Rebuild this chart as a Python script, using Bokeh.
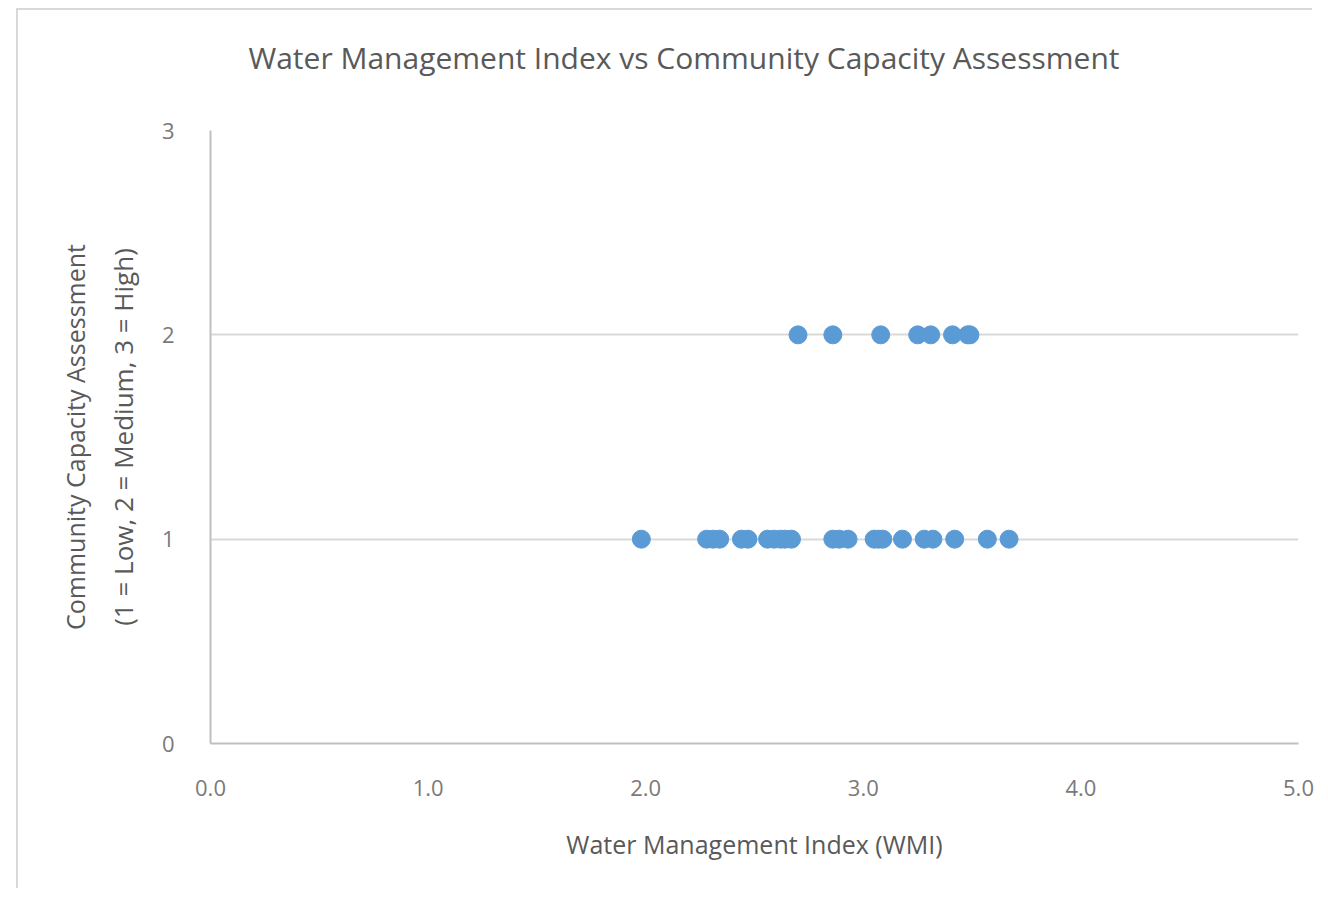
from bokeh.plotting import figure
from bokeh.models import Range1d, FixedTicker, NumeralTickFormatter, Title
from bokeh.embed import file_html
from bokeh.resources import INLINE

# ---- data ----
wmi_low = [1.98, 2.28, 2.31, 2.34, 2.44, 2.47, 2.56, 2.59, 2.62, 2.64, 2.67,
           2.86, 2.89, 2.93, 3.05, 3.07, 3.09, 3.18, 3.28, 3.32, 3.42, 3.57, 3.67]
cap_low = [1] * len(wmi_low)
wmi_medium = [2.70, 2.86, 3.08, 3.25, 3.31, 3.41, 3.48, 3.49]
cap_medium = [2] * len(wmi_medium)

x_ticks = [0, 1, 2, 3, 4, 5]
y_ticks = [0, 1, 2, 3]

title_text = "Water Management Index vs Community Capacity Assessment"
x_label = "Water Management Index (WMI)"
y_label_1 = "Community Capacity Assessment"
y_label_2 = "(1 = Low, 2 = Medium, 3 = High)"

FONT = "Open Sans"
BLUE = "#5B9BD5"
TEXT = "#595959"

p = figure(width=1296, height=880, output_backend="svg", toolbar_location=None,
           x_range=Range1d(0, 5), y_range=Range1d(0, 3),
           min_border_left=192, min_border_right=16, min_border_top=120, min_border_bottom=147)
p.styles = {"margin-left": "18px", "margin-top": "10px",
            "box-shadow": "-2px -2px 0 0 #d9d9d9"}

p.outline_line_color = None
p.background_fill_color = "white"
p.border_fill_color = "white"

p.title.text = title_text
p.title.align = "left"
p.title.offset = 38
p.title.standoff = 10
p.title.padding = dict(left=0, right=0, top=0, bottom=48)
p.title.text_font = FONT
p.title.text_font_size = "30px"
p.title.text_font_style = "normal"
p.title.text_color = TEXT

p.scatter(wmi_low + wmi_medium, cap_low + cap_medium, size=18,
          fill_color=BLUE, line_color=BLUE)

# axes
p.xaxis.ticker = FixedTicker(ticks=x_ticks)
p.xaxis.formatter = NumeralTickFormatter(format="0.0")
p.yaxis.ticker = FixedTicker(ticks=y_ticks)
for ax in (p.xaxis, p.yaxis):
    ax.axis_line_color = "#bfbfbf"
    ax.axis_line_width = 2
    ax.major_tick_line_color = None
    ax.minor_tick_line_color = None
    ax.major_label_text_font = FONT
    ax.major_label_text_font_size = "22px"
    ax.major_label_text_color = "#7a7a7a"
    ax.major_label_standoff = 30
    ax.axis_label_text_font = FONT
    ax.axis_label_text_font_size = "25px"
    ax.axis_label_text_font_style = "normal"
    ax.axis_label_text_color = TEXT
p.xaxis.axis_label = x_label
p.xaxis.axis_label_standoff = 28
p.yaxis.axis_label = y_label_2
p.yaxis.axis_label_text_font_size = "26px"
p.yaxis.axis_label_standoff = 18

p.add_layout(Title(text=y_label_1, align="center", text_font=FONT, text_font_size="25px",
                   text_font_style="normal", text_color=TEXT, standoff=20), "left")

p.xgrid.grid_line_color = None
p.ygrid.ticker = FixedTicker(ticks=y_ticks)
p.ygrid.grid_line_color = "#d9d9d9"
p.ygrid.grid_line_width = 2

open("out.html", "w").write(file_html(p, INLINE))
